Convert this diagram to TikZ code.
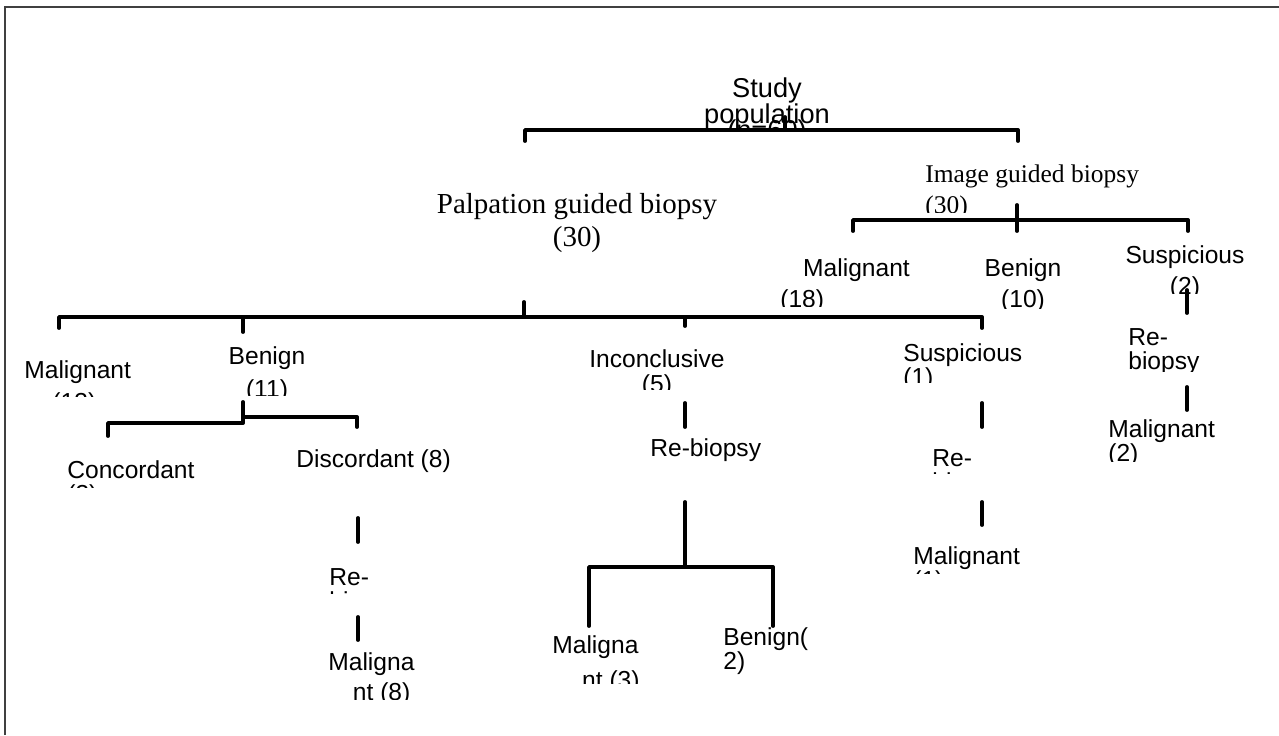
\documentclass[tikz,border=0pt]{standalone}
\usepackage{fontspec}
\setmainfont{Liberation Serif}
\setsansfont{Liberation Sans}
\usepackage{trimclip}
% #1 size, #2 line skip, #3 column, #4 lines
\newcommand{\txtlines}[4]{\fontsize{#1}{#2}\selectfont\begin{tabular}[t]{@{}#3@{}}#4\end{tabular}}
% same, with the lower part cut off by #1
\newcommand{\cutlines}[5]{\clipbox{0pt #1 0pt 0pt}{\txtlines{#2}{#3}{#4}{#5}}}
\tikzset{
  link/.style={line width=2.2pt, line cap=round, line join=round},
  lbl/.style={inner sep=0pt, font=\sffamily},
  srf/.style={inner sep=0pt, font=\rmfamily}
}
\begin{document}
\begin{tikzpicture}[x=0.02cm, y=-0.02cm]
\useasboundingbox (0,0) rectangle (1279,735);
\draw[line width=1.1pt, black!75] (5,735) -- (5,7) -- (1279,7);

% labels
\node[lbl, anchor=base] (study) at (767,97) {\cutlines{10.3pt}{15.5}{12.5pt}{c}{Study\\population\\[-6pt](n=60)}};
\node[srf, anchor=base west] (image) at (925,182) {\cutlines{6pt}{14.5}{18pt}{l}{Image guided biopsy\\(30)}};
\node[srf, anchor=base] (palp) at (577,213) {\txtlines{16.5}{19.3pt}{c}{Palpation guided biopsy\\(30)}};

\node[lbl, anchor=base west] (imal) at (780,276) {\cutlines{6pt}{14}{18pt}{l}{\hspace*{13pt}Malignant\\(18)}};
\node[lbl, anchor=base] (iben) at (1023,276) {\cutlines{5pt}{14}{18pt}{c}{Benign\\(10)}};
\node[lbl, anchor=base] (isus) at (1185,263) {\cutlines{6pt}{14}{18pt}{c}{Suspicious\\(2)}};
\node[lbl, anchor=base west] (irebio) at (1128,345) {\cutlines{2.8pt}{14}{13pt}{l}{Re-\\biopsy}};
\node[lbl, anchor=base west] (imal2) at (1108,437) {\cutlines{3.9pt}{14}{13pt}{l}{Malignant\\(2)}};

\node[lbl, anchor=base west] (pmal) at (24,378) {\cutlines{13.3pt}{14}{18.5pt}{l}{Malignant\\\hspace*{16pt}(13)}};
\node[lbl, anchor=base] (pben) at (267,364) {\cutlines{7pt}{14}{19pt}{c}{Benign\\(11)}};
\node[lbl, anchor=base] (pinc) at (657,367) {\cutlines{6pt}{14}{14.2pt}{c}{Inconclusive\\(5)}};
\node[lbl, anchor=base west] (psus) at (903,361) {\cutlines{5.5pt}{14}{12.5pt}{l}{Suspicious\\(1)}};

\node[lbl, anchor=base west] (conc) at (67,478) {\cutlines{12.4pt}{14}{13pt}{l}{Concordant\\(3)}};
\node[lbl, anchor=base west] (disc) at (296,467) {\txtlines{14}{16pt}{l}{Discordant (8)}};
\node[lbl, anchor=base west] (drebio) at (329,585) {\cutlines{13pt}{14}{13pt}{l}{Re-\\biopsy}};
\node[lbl, anchor=base west] (dmal) at (328,670) {\cutlines{5.9pt}{14}{17.6pt}{l}{Maligna\\\hspace*{14pt}nt (8)}};

\node[lbl, anchor=base west] (irebio2) at (650,456) {\txtlines{14}{16pt}{l}{Re-biopsy}};
\node[lbl, anchor=base west] (imal3) at (552,653) {\cutlines{8.8pt}{14}{20pt}{l}{Maligna\\\hspace*{17pt}nt (3)}};
\node[lbl, anchor=base west] (iben2) at (723,645) {\txtlines{14}{13.5pt}{l}{Benign(\\2)}};

\node[lbl, anchor=base west] (srebio) at (932,466) {\cutlines{13.5pt}{14}{13pt}{l}{Re-\\biopsy}};
\node[lbl, anchor=base west] (smal) at (913,564) {\cutlines{12.4pt}{14}{13pt}{l}{Malignant\\(1)}};

% bracket points
\coordinate (topL) at (525,130);
\coordinate (topR) at (1018,130);
\coordinate (topC) at (785,117);
\coordinate (imgL) at (853,220);
\coordinate (imgR) at (1188,220);
\coordinate (imgC) at (1017,205);
\coordinate (palL) at (59,317);
\coordinate (palR) at (982,317);
\coordinate (palC) at (524,302);
\coordinate (benC) at (243,402);
\coordinate (incC) at (685,403);
\coordinate (incD) at (685,502);
\coordinate (susC) at (982,403);
\coordinate (susD) at (982,502);
\coordinate (disC) at (358,518);
\coordinate (disD) at (358,617);
\coordinate (isuC) at (1187,290);
\coordinate (isuD) at (1187,387);

% connectors
\draw[link] (topL) ++(0,11) -- (topL) -- (topR) -- ++(0,11);
\draw[link] (topC) -- (topC |- topL);
\draw[link] (imgL) ++(0,11) -- (imgL) -- (imgR) -- ++(0,11);
\draw[link] (imgC) -- ++(0,26);
\draw[link] (palL) ++(0,11) -- (palL) -- (palR) -- ++(0,11);
\draw[link] (palC) -- (palC |- palL);
\draw[link] (palL -| benC) -- ++(0,15);
\draw[link] (palL -| incC) -- ++(0,9);
\draw[link] (benC) -- ++(0,21) -- (108,423) -- ++(0,13);
\draw[link] (243,417) -- (357,417) -- ++(0,10);
\draw[link] (incC) -- ++(0,24);
\draw[link] (incD) -- ++(0,65) coordinate (incJ);
\draw[link] (589,626) -- (incJ -| 589,0) -- (incJ -| 773,0) -- (773,626);
\draw[link] (susC) -- ++(0,24);
\draw[link] (susD) -- ++(0,23);
\draw[link] (disC) -- ++(0,24);
\draw[link] (disD) -- ++(0,23);
\draw[link] (isuC) -- ++(0,23);
\draw[link] (isuD) -- ++(0,23);
\end{tikzpicture}
\end{document}
